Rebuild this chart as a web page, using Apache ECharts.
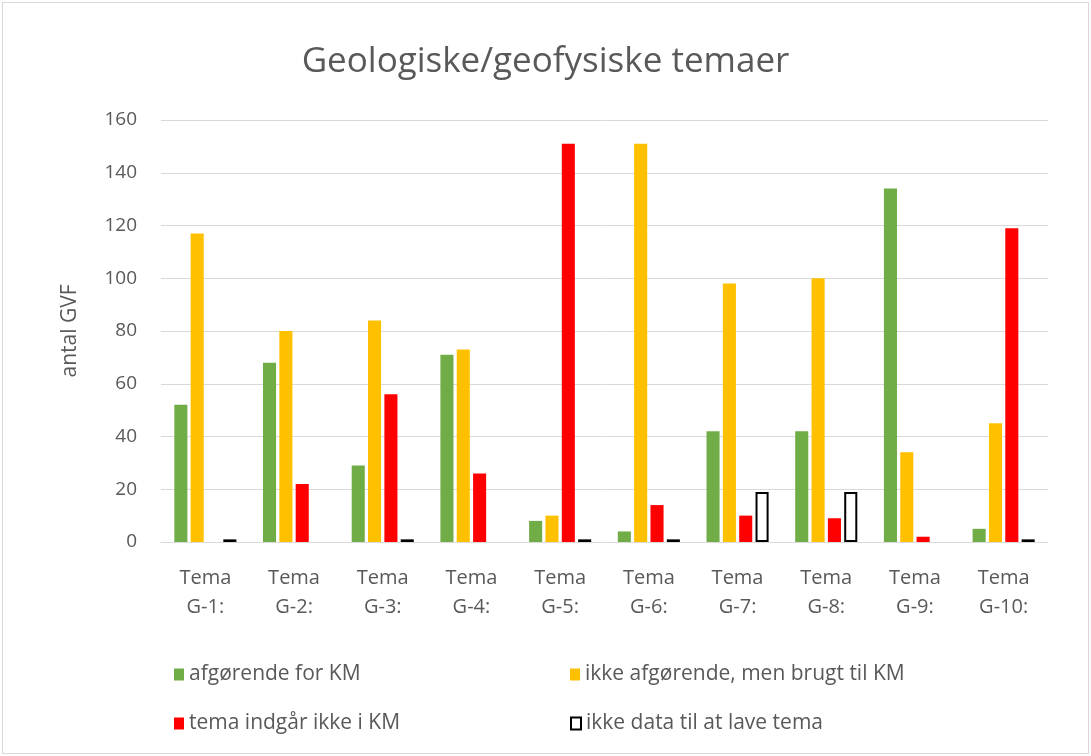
<!DOCTYPE html>
<html>
<head>
<meta charset="utf-8">
<script src="https://cdn.jsdelivr.net/npm/echarts@6/dist/echarts.min.js"></script>
<style>
	html, body { margin: 0; padding: 0; background: #fff; }
	#chart { position: absolute; left: 2px; top: 2px; width: 1085px; height: 750px; border: 1px solid #d9d9d9; }
</style>
</head>
<body>
<div id="chart"></div>
<script>
var categories = ['Tema\nG-1:', 'Tema\nG-2:', 'Tema\nG-3:', 'Tema\nG-4:', 'Tema\nG-5:',
	'Tema\nG-6:', 'Tema\nG-7:', 'Tema\nG-8:', 'Tema\nG-9:', 'Tema\nG-10:'];
var afgorende = [52, 68, 29, 71, 8, 4, 42, 42, 134, 5];
var ikkeAfgorende = [117, 80, 84, 73, 10, 151, 98, 100, 34, 45];
var indgarIkke = [0, 22, 56, 26, 151, 14, 10, 9, 2, 119];
var ikkeData = [1, 0, 1, 0, 1, 1, 19, 19, 0, 1];
var yTicks = [0, 20, 40, 60, 80, 100, 120, 140, 160];

var chart = echarts.init(document.getElementById('chart'));
var font = '"Open Sans", "Noto Sans", sans-serif';
var textColor = '#595959';

// nul-værdier tegnes ikke (ellers giver kanten en streg)
var noZero = function (arr) {
	return arr.map(function (v) { return v === 0 ? null : v; });
};

var legendText = { fontFamily: font, fontSize: 21, color: textColor };

var option = {
	animation: false,
	title: {
		text: 'Geologiske/geofysiske temaer',
		left: 'center',
		top: 37,
		textStyle: { fontFamily: font, fontSize: 35, fontWeight: 'normal', color: textColor }
	},
	legend: [
		{ left: 166, top: 656, itemWidth: 10, itemHeight: 12, icon: 'rect', textStyle: legendText,
			data: ['afgørende for KM'] },
		{ left: 562, top: 656, itemWidth: 10, itemHeight: 12, icon: 'rect', textStyle: legendText,
			data: ['ikke afgørende, men brugt til KM'] },
		{ left: 166, top: 705, itemWidth: 10, itemHeight: 12, icon: 'rect', textStyle: legendText,
			data: ['tema indgår ikke i KM'] },
		{ left: 562, top: 705, itemWidth: 10, itemHeight: 12, icon: 'rect', textStyle: legendText,
			data: ['ikke data til at lave tema'] }
	],
	grid: { left: 158, right: 40, top: 117, bottom: 211 },
	xAxis: {
		type: 'category',
		data: categories,
		axisLine: { lineStyle: { color: '#d9d9d9' } },
		axisTick: { show: false },
		axisLabel: { fontFamily: font, fontSize: 20, color: textColor, lineHeight: 29, margin: 22 }
	},
	yAxis: {
		type: 'value',
		min: yTicks[0],
		max: yTicks[yTicks.length - 1],
		interval: 20,
		name: 'antal GVF',
		nameLocation: 'middle',
		nameGap: 80,
		nameTextStyle: { fontFamily: font, fontSize: 21, color: textColor },
		axisLabel: { fontFamily: font, fontSize: 19, color: textColor, margin: 24 },
		splitLine: { lineStyle: { color: '#d9d9d9', width: 1 } }
	},
	series: [
		{
			name: 'afgørende for KM', type: 'bar', data: noZero(afgorende),
			barGap: '25%', barCategoryGap: '30%',
			itemStyle: { color: '#70ad47' }
		},
		{
			name: 'ikke afgørende, men brugt til KM', type: 'bar', data: noZero(ikkeAfgorende),
			itemStyle: { color: '#ffc000' }
		},
		{
			name: 'tema indgår ikke i KM', type: 'bar', data: noZero(indgarIkke),
			itemStyle: { color: '#ff0000' }
		},
		{
			name: 'ikke data til at lave tema', type: 'bar', data: noZero(ikkeData),
			itemStyle: { color: '#ffffff', borderColor: '#000000', borderWidth: 2 }
		}
	]
};
chart.setOption(option);
</script>
</body>
</html>
